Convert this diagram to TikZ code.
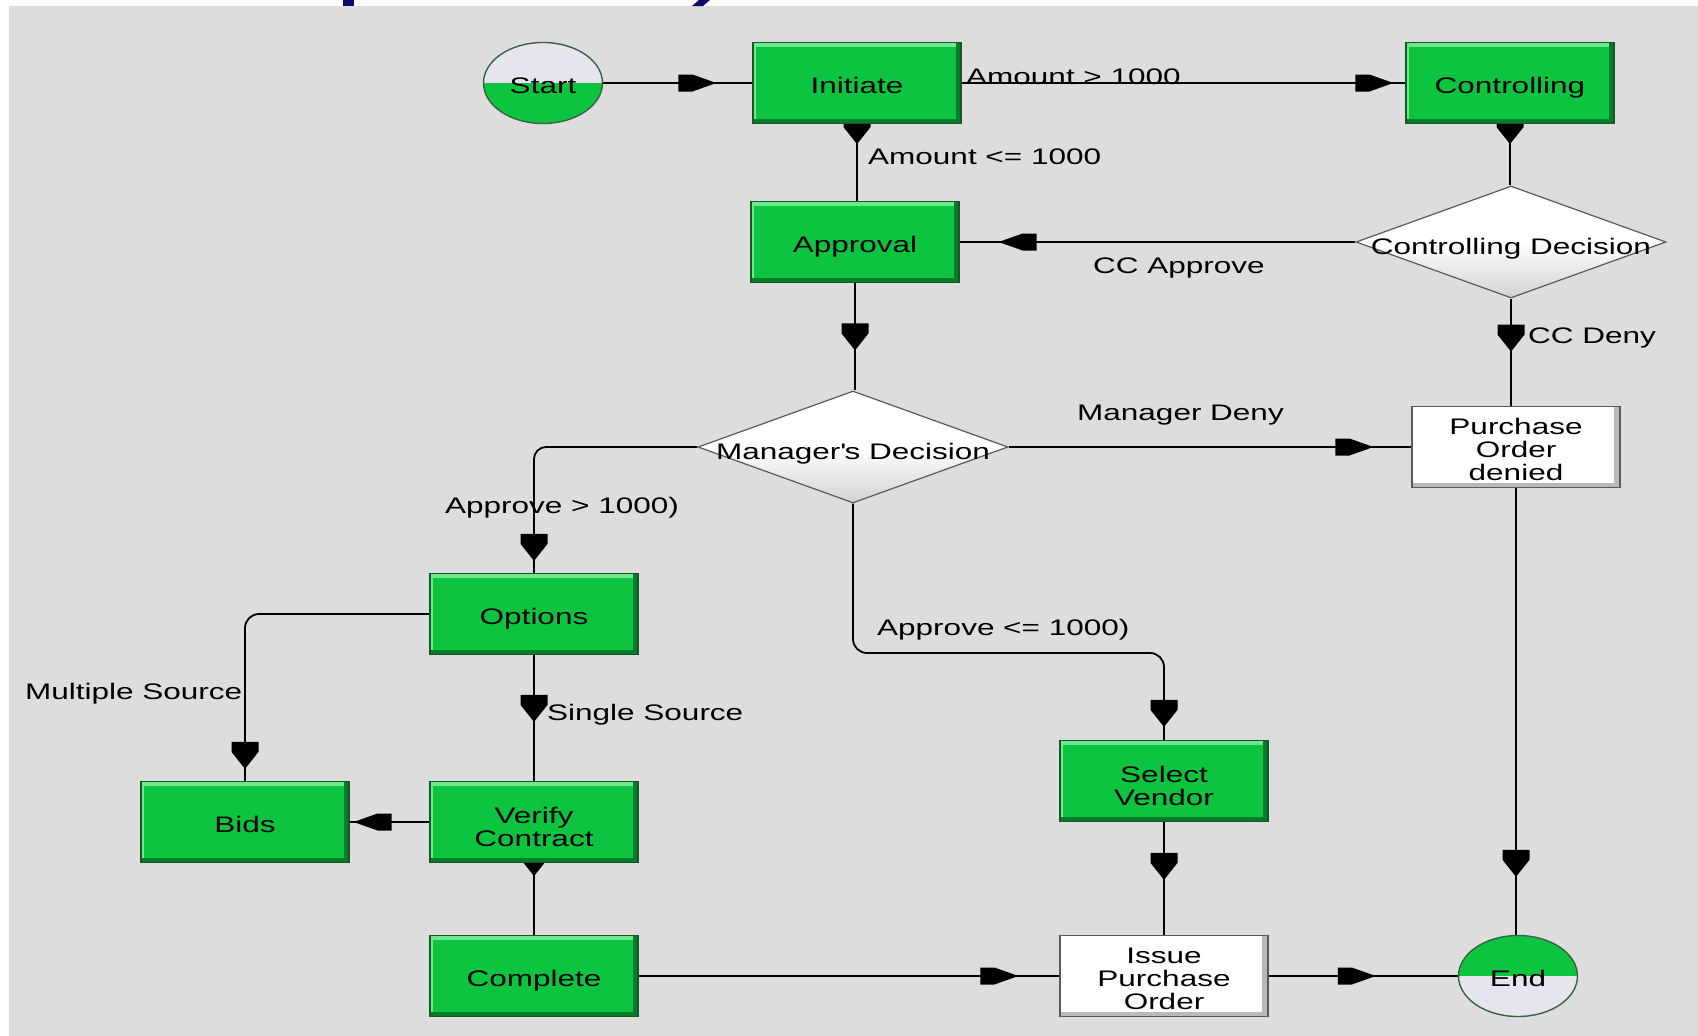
\documentclass[tikz,border=0pt]{standalone}
\usepackage{fontspec}
\setmainfont{Liberation Sans}[FakeStretch=1.4]
\usetikzlibrary{shapes.geometric,decorations.markings,calc}
\pgfdeclarelayer{back}
\pgfdeclarelayer{bg}
\pgfsetlayers{back,bg,main}
\definecolor{bggray}{RGB}{221,221,221}
\definecolor{boxgreen}{RGB}{12,196,64}
\definecolor{greenhi}{RGB}{110,232,140}
\definecolor{greendk}{RGB}{0,125,40}
\definecolor{greenedge}{RGB}{25,85,40}
\definecolor{ellgray}{RGB}{230,228,236}
\definecolor{titleblue}{RGB}{10,10,110}
\definecolor{wedge}{RGB}{90,90,90}
\tikzset{
  every node/.style={font=\fontsize{22.5}{23}\selectfont, inner sep=0pt},
  gbox/.style={rectangle, fill=boxgreen, draw=greenedge, line width=1.2pt,
    minimum width=208pt, minimum height=81pt,
    path picture={
      \fill[greenhi] (path picture bounding box.north west) rectangle ([yshift=-4pt]path picture bounding box.north east);
      \fill[greenhi] (path picture bounding box.north west) rectangle ([xshift=3pt]path picture bounding box.south west);
      \fill[greendk] ([yshift=5pt]path picture bounding box.south west) rectangle (path picture bounding box.south east);
      \fill[greendk] ([xshift=-5pt]path picture bounding box.south east) rectangle (path picture bounding box.north east);
    }},
  wbox/.style={rectangle, fill=white, draw=wedge, line width=1.2pt,
    minimum width=208pt, minimum height=81pt,
    path picture={
      \fill[gray!55] ([yshift=5pt]path picture bounding box.south west) rectangle (path picture bounding box.south east);
      \fill[gray!55] ([xshift=-6pt]path picture bounding box.south east) rectangle (path picture bounding box.north east);
    }},
  decision/.style={diamond, draw=wedge, line width=1.2pt, top color=white, bottom color=gray!35,
    middle color=white, minimum width=310pt, minimum height=112pt, inner sep=0pt},
  terminal/.style={ellipse, draw=greenedge!70!gray, line width=1.4pt,
    minimum width=119pt, minimum height=81pt, inner sep=0pt},
  conn/.style={line width=1.8pt, draw=black},
  harr/.style={postaction={decorate, decoration={markings, mark=at position #1 with
    {\fill[black, sharp corners] (0,0) -- (-24,8.5) -- (-38,8.5) -- (-38,-8.5) -- (-24,-8.5) -- cycle;}}}},
  varr/.style={postaction={decorate, decoration={markings, mark=at position #1 with
    {\fill[black, sharp corners] (0,0) -- (-17,13.5) -- (-27,13.5) -- (-27,-13.5) -- (-17,-13.5) -- cycle;}}}},
  elabel/.style={anchor=base west},
  one/.style={anchor=base},
  multi/.style={align=center}
}
\begin{document}
\begin{tikzpicture}[x=1pt,y=-1pt]
\useasboundingbox (0,0) rectangle (1698,1036);
\begin{pgfonlayer}{back}
\fill[white] (0,0) rectangle (1698,1036);
\fill[bggray] (9,6) rectangle (1698,1036);
\fill[titleblue] (343,0) rectangle (354,6);
\fill[titleblue] (699,0) -- (710,0) -- (703,6) -- (692,6) -- cycle;
\end{pgfonlayer}

% shapes
\node[terminal, fill=ellgray, path picture={\fill[boxgreen] (path picture bounding box.west) rectangle (path picture bounding box.south east);}] (start) at (543,83) {};
\node[gbox] (init) at (857,83) {};
\node[gbox] (ctrl) at (1510,83) {};
\node[gbox] (appr) at (855,242) {};
\node[decision] (cd) at (1511,242) {};
\node[decision] (mgr) at (853,447) {};
\node[wbox] (pod) at (1516,447) {};
\node[gbox] (opt) at (534,614) {};
\node[gbox] (bids) at (245,822) {};
\node[gbox] (ver) at (534,822) {};
\node[gbox] (comp) at (534,976) {};
\node[gbox] (sv) at (1164,781) {};
\node[wbox] (ipo) at (1164,976) {};
\node[terminal, fill=boxgreen, path picture={\fill[ellgray] (path picture bounding box.west) rectangle (path picture bounding box.south east);}] (end) at (1518,976) {};
\coordinate (m11) at (853,653);

% texts of the shapes
\node[one] (tstart) at ([yshift=-10.5pt]start.center) {Start};
\node[one] (tinit) at ([yshift=-10.5pt]init.center) {Initiate};
\node[one] (tctrl) at ([yshift=-10.5pt]ctrl.center) {Controlling};
\node[one] (tappr) at ([yshift=-10.5pt]appr.center) {Approval};
\node[one] (tcd) at ([yshift=-12pt]cd.center) {Controlling Decision};
\node[one] (tmgr) at ([yshift=-12pt]mgr.center) {Manager\textquotesingle s Decision};
\node[multi] (tpod) at ([yshift=-2.5pt]pod.center) {Purchase\\Order\\denied};
\node[one] (topt) at ([yshift=-10.5pt]opt.center) {Options};
\node[one] (tbids) at ([yshift=-10.5pt]bids.center) {Bids};
\node[multi] (tver) at ([yshift=-5pt]ver.center) {Verify\\Contract};
\node[one] (tcomp) at ([yshift=-10.5pt]comp.center) {Complete};
\node[multi] (tsv) at ([yshift=-4.5pt]sv.center) {Select\\Vendor};
\node[multi] (tipo) at ([yshift=-2.5pt]ipo.center) {Issue\\Purchase\\Order};
\node[one] (tend) at ([yshift=-10.5pt]end.center) {End};

% labels
\node[elabel] (l1) at (966,84) {Amount > 1000};
\node[elabel] (l2) at (868,164) {Amount <= 1000};
\node[elabel] (l3) at (1093,273) {CC Approve};
\node[elabel] (l4) at (1528,343) {CC Deny};
\node[elabel] (l5) at (1077,420) {Manager Deny};
\node[elabel] (l6) at (445,513) {Approve > 1000)};
\node[elabel] (l7) at (877,635) {Approve <= 1000)};
\node[elabel] (l8) at (25,699) {Multiple Source};
\node[elabel] (l9) at (547,720) {Single Source};

% connectors
\begin{pgfonlayer}{bg}
\draw[conn, harr=-36pt] (start) -- (init);
\draw[conn, harr=-12pt] (init.east) -- (ctrl.west);
\draw[conn, varr=20pt] (init.south) -- (init.south |- appr.north);
\draw[conn, varr=20pt] (ctrl.south) -- (ctrl.south |- cd.north);
\draw[conn, harr=-39pt] (cd.west) -- (appr.east);
\draw[conn, varr=-40pt] (appr.south) -- (appr.south |- mgr.north);
\draw[conn, harr=-38pt] (mgr.east) -- (pod.west);
\draw[conn, varr=53pt] (cd.south) -- (cd.south |- pod.north);
\draw[conn, varr=-58pt] (pod.south) -- (pod.south |- end.north);
\draw[conn, rounded corners=12pt, varr=-12pt] (mgr.west) -| (opt.north);
\draw[conn, rounded corners=14pt, varr=-13pt] (mgr.south) -- (m11) -| (sv.north);
\draw[conn, rounded corners=14pt, varr=-12pt] (opt.west) -| (bids.north);
\draw[conn, varr=-59pt] (opt.south) -- (ver.north);
\draw[conn, harr=-4pt] (ver.west) -- (bids.east);
\draw[conn, varr=13pt] (ver.south) -- (comp.north);
\draw[conn, harr=-41pt] (comp.east) -- (ipo.west);
\draw[conn, varr=-55pt] (sv.south) -- (ipo.north);
\draw[conn, harr=-82pt] (ipo.east) -- (end.west);
\end{pgfonlayer}
\end{tikzpicture}
\end{document}
